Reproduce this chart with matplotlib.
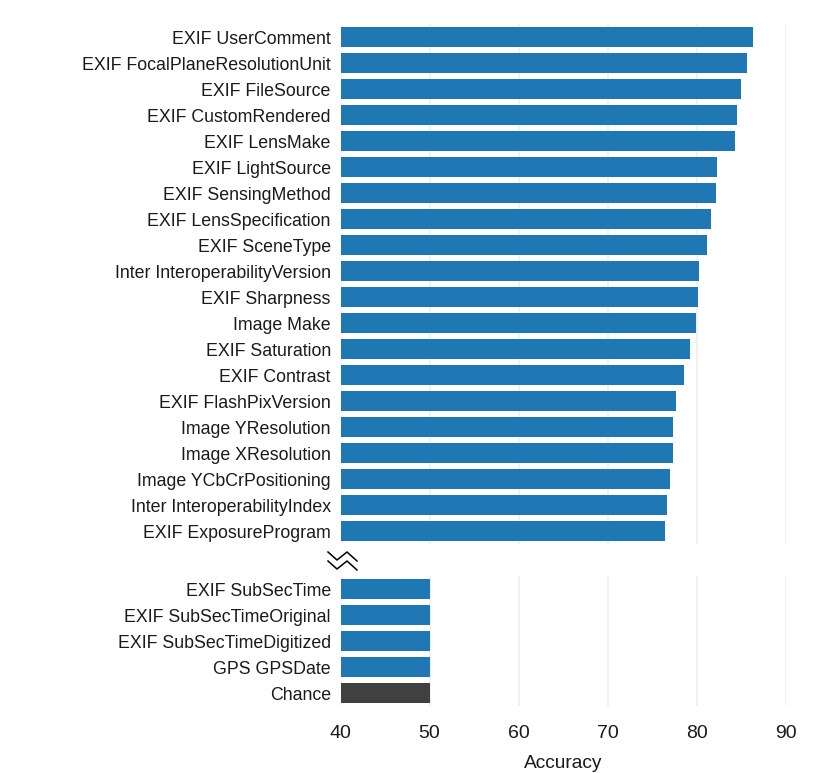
#!/usr/bin/env python3
"""Broken-axis horizontal bar chart of per-tag accuracy."""

import matplotlib
matplotlib.use("Agg")
import matplotlib.pyplot as plt
from matplotlib.lines import Line2D
import numpy as np

plt.rcParams["font.family"] = ["Liberation Sans", "DejaVu Sans"]
plt.rcParams["text.color"] = "#1a1a1a"
plt.rcParams["xtick.color"] = "#1a1a1a"
plt.rcParams["ytick.color"] = "#1a1a1a"
plt.rcParams["axes.labelcolor"] = "#1a1a1a"

# ---------------------------------------------------------------------------
# Data
# ---------------------------------------------------------------------------
top_labels = [
    "EXIF UserComment", "EXIF FocalPlaneResolutionUnit", "EXIF FileSource",
    "EXIF CustomRendered", "EXIF LensMake", "EXIF LightSource",
    "EXIF SensingMethod", "EXIF LensSpecification", "EXIF SceneType",
    "Inter InteroperabilityVersion", "EXIF Sharpness", "Image Make",
    "EXIF Saturation", "EXIF Contrast", "EXIF FlashPixVersion",
    "Image YResolution", "Image XResolution", "Image YCbCrPositioning",
    "Inter InteroperabilityIndex", "EXIF ExposureProgram",
]
top_values = [
    86.3, 85.6, 85.0, 84.5, 84.3, 82.2, 82.1, 81.6, 81.1, 80.2,
    80.1, 79.85, 79.2, 78.5, 77.7, 77.3, 77.3, 77.0, 76.6, 76.45,
]

bottom_labels = [
    "EXIF SubSecTime", "EXIF SubSecTimeOriginal", "EXIF SubSecTimeDigitized",
    "GPS GPSDate", "Chance",
]
bottom_values = [50.0, 50.0, 50.0, 50.0, 50.05]

x_ticks = [40, 50, 60, 70, 80, 90]

BLUE = "#1f77b4"
CHANCE = "#404040"
GRID = "#efefef"

W, H = 830, 773


def style_axis(ax, labels):
    ax.set_xlim(40, 90)
    ax.set_ylim(len(labels) - 0.5, -0.5)
    ax.set_yticks(np.arange(len(labels)))
    ax.set_yticklabels(labels, fontsize=12.8)
    ax.set_xticks(x_ticks)
    ax.tick_params(length=0, pad=7)
    ax.grid(axis="x", color=GRID, lw=1.2)
    ax.set_axisbelow(True)
    for spine in ax.spines.values():
        spine.set_visible(False)


def main():
    fig = plt.figure(figsize=(W / 100, H / 100), dpi=100)

    left = 340.5 / W
    width = (786 - 340.5) / W
    ax_top = fig.add_axes([left, 1 - 544 / H, width, 520 / H])
    ax_bot = fig.add_axes([left, 1 - 706 / H, width, 130 / H])

    # ── top block ──
    y_top = np.arange(len(top_labels))
    ax_top.barh(y_top, np.array(top_values) - 40, left=40, height=0.8,
                color=BLUE)
    style_axis(ax_top, top_labels)
    ax_top.set_xticklabels([])

    # ── bottom block ──
    y_bot = np.arange(len(bottom_labels))
    colors = [BLUE] * (len(bottom_labels) - 1) + [CHANCE]
    ax_bot.barh(y_bot, np.array(bottom_values) - 40, left=40, height=0.8,
                color=colors)
    style_axis(ax_bot, bottom_labels)
    ax_bot.set_xticklabels([str(t) for t in x_ticks], fontsize=14)
    ax_bot.tick_params(axis="x", pad=14)
    ax_bot.set_xlabel("Accuracy", fontsize=13.8, labelpad=9)

    # ── break marker (double zigzag) ──
    zx = np.array([328, 337, 347, 357]) / W
    for y0 in (552, 561):
        zy = 1 - np.array([y0, y0 + 8, y0, y0 + 9]) / H
        fig.add_artist(Line2D(zx, zy, color="black", lw=1.1,
                              transform=fig.transFigure))

    fig.savefig("out.png", dpi=100, facecolor="white")
    plt.close(fig)


if __name__ == "__main__":
    main()
